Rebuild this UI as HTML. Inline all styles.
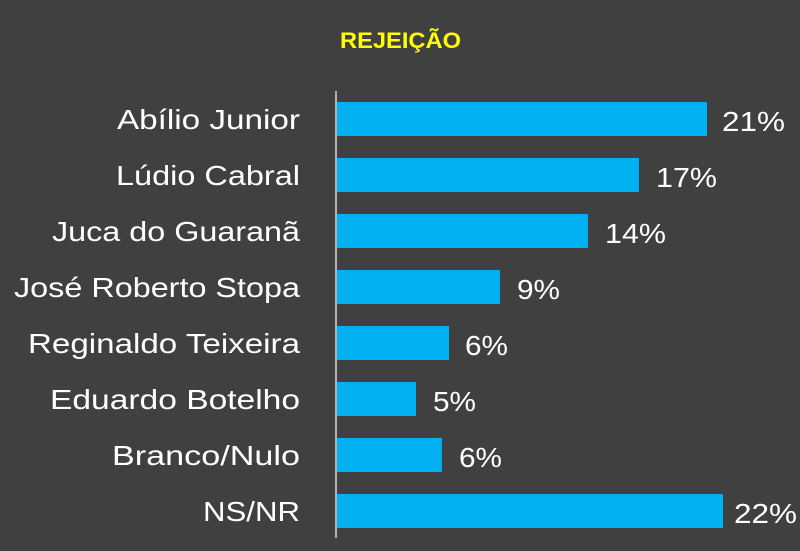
<!DOCTYPE html>
<html><head><meta charset="utf-8"><style>html,body{margin:0;padding:0;background:#404040}svg{display:block}</style></head>
<body>
<svg width="800" height="551" xmlns="http://www.w3.org/2000/svg" font-family="Liberation Sans, sans-serif">
<rect width="800" height="551" fill="#404040"/>
<text x="340" y="48" textLength="121" lengthAdjust="spacingAndGlyphs" font-size="22" font-weight="bold" fill="#ffff00">REJEIÇÃO</text>
<line x1="336" y1="91" x2="336" y2="538" stroke="#d8d8d8" stroke-width="1.5"/>
<g fill="#00b0f0">
<rect x="337" y="102" width="370" height="34"/>
<rect x="337" y="158" width="302" height="34"/>
<rect x="337" y="214" width="251" height="34"/>
<rect x="337" y="270" width="163" height="34"/>
<rect x="337" y="326" width="112" height="34"/>
<rect x="337" y="382" width="79" height="34"/>
<rect x="337" y="438" width="105" height="34"/>
<rect x="337" y="494" width="386" height="34"/>
</g>
<g fill="#ffffff" font-size="28" text-anchor="end">
<text x="300" y="129" textLength="183" lengthAdjust="spacingAndGlyphs">Abílio Junior</text>
<text x="300" y="185" textLength="184" lengthAdjust="spacingAndGlyphs">Lúdio Cabral</text>
<text x="300" y="241" textLength="248" lengthAdjust="spacingAndGlyphs">Juca do Guaranã</text>
<text x="300" y="297" textLength="286" lengthAdjust="spacingAndGlyphs">José Roberto Stopa</text>
<text x="300" y="353" textLength="272" lengthAdjust="spacingAndGlyphs">Reginaldo Teixeira</text>
<text x="300" y="409" textLength="250" lengthAdjust="spacingAndGlyphs">Eduardo Botelho</text>
<text x="300" y="465" textLength="188" lengthAdjust="spacingAndGlyphs">Branco/Nulo</text>
<text x="300" y="521" textLength="97" lengthAdjust="spacingAndGlyphs">NS/NR</text>
</g>
<g fill="#ffffff" font-size="28">
<text x="722" y="131" textLength="63" lengthAdjust="spacingAndGlyphs">21%</text>
<text x="656" y="187" textLength="61" lengthAdjust="spacingAndGlyphs">17%</text>
<text x="605" y="243" textLength="61" lengthAdjust="spacingAndGlyphs">14%</text>
<text x="517" y="299" textLength="43" lengthAdjust="spacingAndGlyphs">9%</text>
<text x="465" y="355" textLength="43" lengthAdjust="spacingAndGlyphs">6%</text>
<text x="433" y="411" textLength="43" lengthAdjust="spacingAndGlyphs">5%</text>
<text x="459" y="467" textLength="43" lengthAdjust="spacingAndGlyphs">6%</text>
<text x="734" y="523" textLength="63" lengthAdjust="spacingAndGlyphs">22%</text>
</g>
</svg>
</body></html>
